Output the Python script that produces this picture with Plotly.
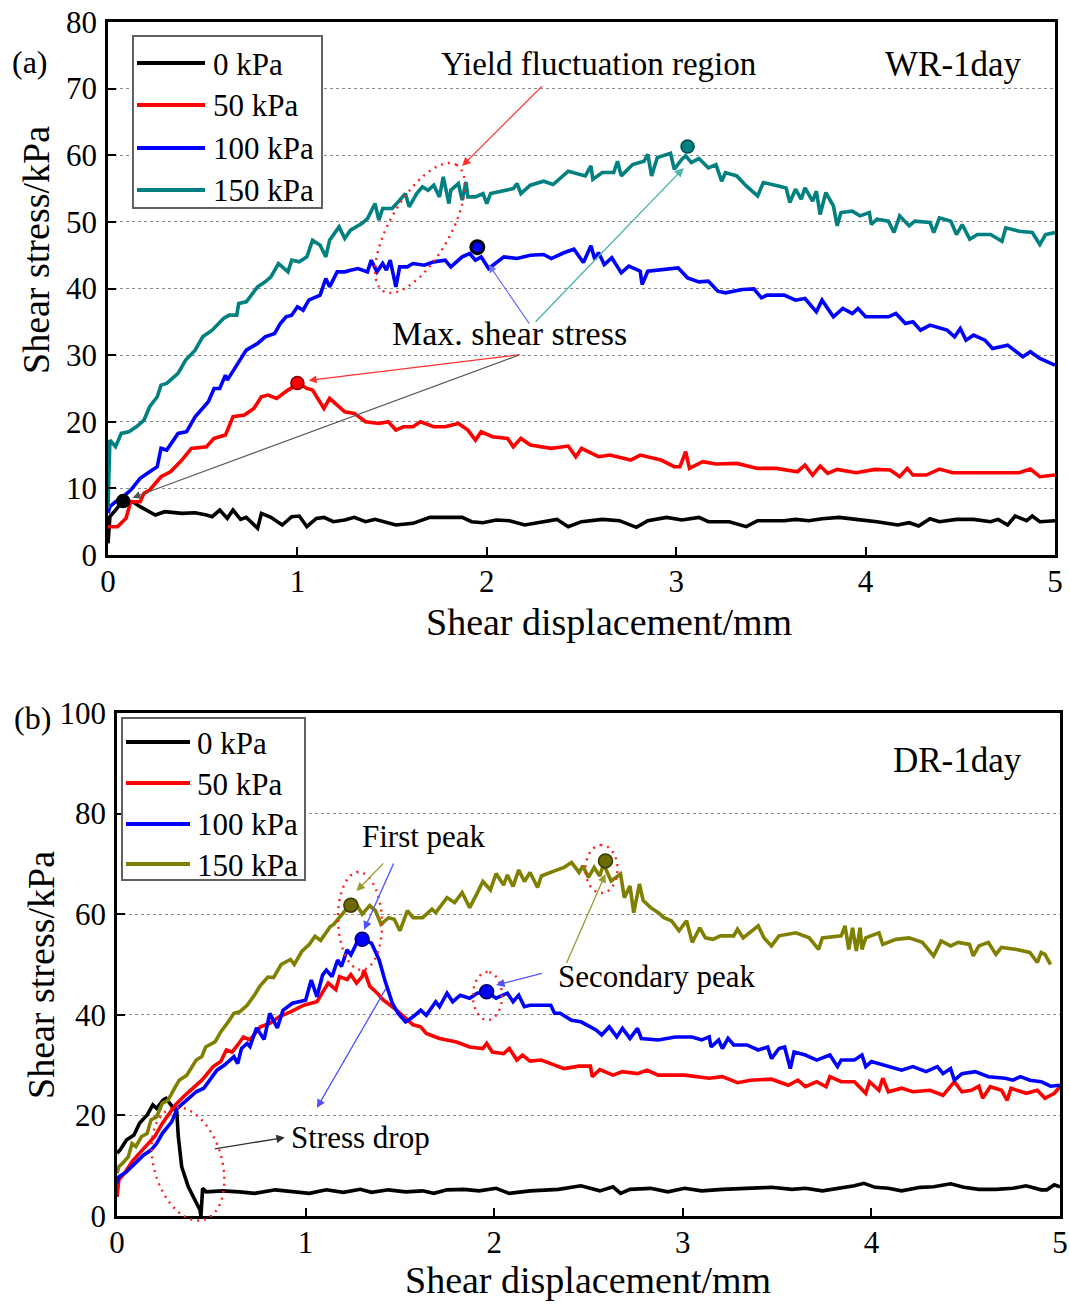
import math
import plotly.graph_objects as go

W, H = 1070, 1304
FONT = "Liberation Serif, Times New Roman, serif"

# ---------------- (a) WR-1day : shear displacement (mm) / shear stress (kPa) ----------------
wr_disp_0 = [0, 0.01, 0.04, 0.08, 0.13, 0.17, 0.25, 0.30, 0.39, 0.46, 0.52, 0.55, 0.59, 0.63, 0.66, 0.70,
             0.73, 0.79, 0.81, 0.86, 0.92, 0.97, 1.01, 1.05, 1.10, 1.14, 1.19, 1.25, 1.30, 1.36, 1.41, 1.52,
             1.61, 1.70, 1.80, 1.87, 1.92, 1.98, 2.05, 2.12, 2.20, 2.27, 2.37, 2.43, 2.50, 2.61, 2.70, 2.79,
             2.85, 2.95, 3.03, 3.12, 3.17, 3.28, 3.37, 3.43, 3.57, 3.63, 3.70, 3.77, 3.86, 3.95, 4.06, 4.17,
             4.23, 4.28, 4.34, 4.39, 4.48, 4.57, 4.66, 4.70, 4.75, 4.79, 4.85, 4.88, 4.92, 5.0]
wr_tau_0 = [1.75, 5.75, 6.75, 8.15, 8.0, 7.25, 6.0, 6.5, 6.25, 6.35, 6.0, 5.75, 6.75, 5.5, 6.75, 5.35,
            5.65, 4.0, 6.25, 5.65, 4.5, 5.75, 5.85, 4.25, 5.5, 5.65, 5.0, 5.25, 5.65, 5.0, 5.35, 4.5,
            4.75, 5.65, 5.65, 5.65, 5.0, 4.85, 5.25, 5.15, 4.5, 4.8, 5.35, 4.25, 5.0, 5.35, 5.15, 4.15,
            5.15, 5.65, 5.25, 5.65, 5.0, 5.0, 4.25, 5.15, 5.15, 5.35, 5.15, 5.45, 5.65, 5.35, 5.0, 4.5,
            4.85, 4.35, 5.45, 5.0, 5.35, 5.35, 5.0, 5.35, 4.5, 5.85, 5.15, 5.85, 5.0, 5.15]

wr_disp_50 = [0, 0.05, 0.095, 0.12, 0.17, 0.19, 0.22, 0.28, 0.33, 0.39, 0.44, 0.52, 0.56, 0.62, 0.66, 0.72,
              0.77, 0.81, 0.845, 0.89, 0.95, 1.01, 1.05, 1.08, 1.14, 1.17, 1.25, 1.30, 1.36, 1.43, 1.48, 1.52,
              1.56, 1.61, 1.65, 1.72, 1.78, 1.85, 1.90, 1.94, 1.97, 2.03, 2.11, 2.14, 2.18, 2.23, 2.34, 2.43,
              2.47, 2.50, 2.59, 2.65, 2.76, 2.81, 2.92, 2.99, 3.02, 3.05, 3.07, 3.14, 3.21, 3.32, 3.43, 3.53,
              3.64, 3.68, 3.72, 3.76, 3.80, 3.85, 3.95, 4.05, 4.13, 4.18, 4.22, 4.25, 4.32, 4.39, 4.46, 4.59,
              4.68, 4.81, 4.87, 4.92, 5.0]
wr_tau_50 = [4.25, 4.25, 5.5, 8.0, 8.0, 9.25, 9.75, 11.75, 12.5, 14.25, 16.0, 16.25, 17.5, 18.0, 20.75, 21.0,
             22.0, 23.75, 24.0, 23.5, 24.75, 25.75, 25.0, 24.75, 22.0, 23.5, 21.5, 21.25, 20.0, 19.75, 20.0, 18.75,
             19.25, 19.25, 20.0, 19.25, 19.25, 19.75, 18.75, 17.25, 18.5, 17.75, 17.5, 16.25, 17.5, 16.5, 16.0, 16.35,
             14.75, 16.0, 14.75, 15.0, 14.25, 15.0, 14.25, 13.25, 13.25, 15.5, 13.0, 14.0, 13.65, 13.75, 13.0, 13.0,
             12.5, 13.5, 12.0, 13.35, 12.25, 12.85, 12.35, 12.85, 12.75, 11.75, 13.0, 12.0, 12.0, 12.9, 12.35, 12.35,
             12.25, 12.35, 12.9, 11.75, 12.0]

wr_disp_100 = [0, 0.01, 0.04, 0.08, 0.12, 0.17, 0.22, 0.26, 0.28, 0.31, 0.37, 0.415, 0.46, 0.50, 0.53, 0.56,
               0.59, 0.62, 0.63, 0.68, 0.73, 0.79, 0.83, 0.88, 0.91, 0.94, 0.97, 1.0, 1.03, 1.06, 1.12, 1.15,
               1.17, 1.21, 1.25, 1.28, 1.32, 1.37, 1.39, 1.42, 1.45, 1.47, 1.49, 1.52, 1.54, 1.58, 1.61, 1.67,
               1.72, 1.78, 1.81, 1.87, 1.91, 1.94, 1.97, 2.01, 2.09, 2.16, 2.23, 2.30, 2.34, 2.41, 2.46, 2.51,
               2.55, 2.57, 2.59, 2.62, 2.66, 2.71, 2.75, 2.81, 2.82, 2.85, 2.94, 3.01, 3.06, 3.12, 3.17, 3.22,
               3.26, 3.35, 3.41, 3.45, 3.48, 3.57, 3.63, 3.68, 3.74, 3.77, 3.83, 3.88, 3.93, 3.96, 4.0, 4.12,
               4.16, 4.21, 4.25, 4.29, 4.34, 4.43, 4.47, 4.50, 4.53, 4.57, 4.63, 4.67, 4.75, 4.83, 4.87, 4.92, 5.0]
wr_tau_100 = [6.25, 7.25, 8.0, 8.75, 9.75, 11.5, 12.5, 13.25, 16.0, 15.75, 18.25, 18.5, 20.75, 22.0, 23.0, 25.0,
              25.0, 27.0, 26.25, 28.5, 30.75, 31.75, 32.75, 33.25, 34.75, 35.75, 36.0, 37.25, 36.75, 38.25, 39.0, 41.5,
              40.25, 42.5, 42.5, 42.75, 43.0, 42.5, 44.25, 42.5, 43.75, 42.75, 44.25, 40.25, 43.25, 43.25, 43.75, 43.5,
              44.0, 44.25, 43.25, 44.75, 45.25, 44.25, 44.75, 43.0, 44.75, 44.5, 45.0, 45.1, 44.5, 45.4, 45.9, 43.9,
              46.4, 44.4, 45.4, 43.6, 44.6, 42.35, 43.35, 42.6, 40.6, 42.6, 42.85, 43.1, 41.6, 41.0, 41.1, 39.6,
              39.35, 39.85, 39.95, 38.6, 39.0, 39.0, 38.25, 38.5, 36.5, 38.25, 35.75, 37.0, 36.25, 37.0, 35.75, 35.75,
              36.25, 34.75, 35.0, 33.75, 34.5, 33.75, 32.75, 34.0, 32.25, 33.0, 32.25, 31.0, 31.5, 29.75, 30.5, 29.5, 28.5]

wr_disp_150 = [0, 0.005, 0.01, 0.04, 0.07, 0.11, 0.15, 0.19, 0.22, 0.26, 0.28, 0.31, 0.37, 0.41, 0.46, 0.50,
               0.55, 0.61, 0.64, 0.68, 0.69, 0.73, 0.79, 0.83, 0.86, 0.90, 0.95, 0.97, 1.01, 1.05, 1.08, 1.12,
               1.15, 1.17, 1.22, 1.25, 1.28, 1.34, 1.37, 1.41, 1.43, 1.45, 1.50, 1.54, 1.57, 1.59, 1.63, 1.66,
               1.69, 1.72, 1.75, 1.77, 1.80, 1.81, 1.85, 1.87, 1.89, 1.90, 1.94, 1.98, 2.00, 2.02, 2.09, 2.14,
               2.16, 2.18, 2.23, 2.30, 2.35, 2.43, 2.52, 2.55, 2.56, 2.61, 2.67, 2.69, 2.71, 2.77, 2.83, 2.85,
               2.87, 2.90, 2.97, 2.99, 3.03, 3.05, 3.08, 3.12, 3.17, 3.21, 3.24, 3.26, 3.32, 3.37, 3.43, 3.46,
               3.54, 3.58, 3.60, 3.63, 3.66, 3.68, 3.72, 3.74, 3.76, 3.79, 3.83, 3.85, 3.87, 3.93, 3.97, 4.02,
               4.03, 4.06, 4.12, 4.15, 4.18, 4.23, 4.26, 4.34, 4.36, 4.39, 4.45, 4.48, 4.51, 4.55, 4.59, 4.66,
               4.72, 4.74, 4.81, 4.88, 4.92, 4.95, 5.0]
wr_tau_150 = [7.0, 12.0, 17.25, 16.25, 18.25, 18.5, 19.25, 20.25, 22.25, 23.75, 25.5, 25.75, 27.25, 29.25, 30.75, 32.75,
              33.75, 35.5, 36.0, 36.0, 37.75, 38.0, 40.25, 41.0, 41.75, 43.75, 42.5, 44.25, 44.0, 44.75, 47.25, 46.5,
              44.75, 47.25, 49.25, 47.5, 48.75, 49.75, 50.5, 52.75, 50.25, 52.0, 52.0, 53.25, 54.25, 52.25, 54.25, 55.25,
              54.75, 55.5, 53.75, 56.75, 52.75, 54.75, 55.75, 53.25, 56.0, 53.75, 53.75, 54.25, 52.75, 54.25, 54.75, 55.0,
              55.75, 54.25, 55.5, 56.1, 55.6, 57.6, 56.9, 58.4, 56.4, 57.4, 57.4, 59.1, 56.9, 58.6, 59.1, 60.15,
              56.9, 59.65, 60.3, 57.9, 59.4, 59.9, 58.9, 59.5, 58.1, 58.6, 56.1, 57.4, 56.9, 55.4, 53.9, 55.9,
              55.4, 55.1, 52.9, 54.9, 53.4, 55.1, 53.1, 54.6, 51.1, 54.4, 52.4, 49.4, 51.4, 51.6, 50.9, 51.4,
              49.6, 50.4, 50.1, 48.4, 50.9, 49.4, 50.1, 49.9, 48.4, 50.6, 50.1, 48.1, 49.6, 47.4, 48.1, 48.1,
              47.1, 49.1, 48.6, 48.4, 46.6, 48.1, 48.4]

# maximum shear stress points (a)
wr_peak_disp = [0.08, 1.0, 1.95, 3.06]
wr_peak_tau = [8.1, 25.8, 46.2, 61.3]

# ---------------- (b) DR-1day ----------------
dr_disp_0 = [0, 0.016, 0.05, 0.09, 0.12, 0.16, 0.19, 0.21, 0.245, 0.26, 0.28, 0.30, 0.317, 0.325, 0.343,
             0.378, 0.414, 0.44, 0.445, 0.454, 0.472, 0.56, 0.65, 0.73, 0.84, 0.93, 1.02, 1.11, 1.20, 1.29,
             1.35, 1.44, 1.53, 1.62, 1.68, 1.75, 1.84, 1.92, 2.01, 2.08, 2.19, 2.34, 2.46, 2.56, 2.63,
             2.67, 2.72, 2.83, 2.92, 3.01, 3.10, 3.21, 3.32, 3.47, 3.58, 3.65, 3.74, 3.84, 3.91, 3.96,
             4.02, 4.09, 4.16, 4.26, 4.33, 4.42, 4.49, 4.57, 4.66, 4.75, 4.82, 4.90, 4.93, 4.97, 5.0]
dr_tau_0 = [12.5, 13.1, 15.1, 16.1, 18.5, 20.1, 22.1, 21.4, 23.1, 23.4, 22.4, 21.5, 20.7, 15.8, 9.8,
            5.8, 3.2, 1.2, 0.0, 5.5, 4.8, 5.0, 4.8, 4.5, 5.2, 4.8, 4.5, 5.2, 4.7, 5.3,
            4.7, 5.2, 4.8, 5.0, 4.5, 5.2, 5.3, 5.0, 5.5, 4.5, 5.0, 5.3, 6.0, 5.0, 5.8,
            4.5, 5.3, 5.5, 4.8, 5.5, 5.0, 5.3, 5.5, 5.7, 5.3, 5.5, 5.0, 5.5, 6.0, 6.5,
            5.7, 5.5, 5.0, 5.7, 5.8, 6.4, 5.7, 5.3, 5.3, 5.5, 6.0, 5.2, 5.2, 6.2, 5.8]

dr_disp_50 = [0, 0.01, 0.04, 0.08, 0.11, 0.16, 0.20, 0.24, 0.28, 0.31, 0.36, 0.40, 0.45, 0.51, 0.55, 0.58,
              0.61, 0.64, 0.67, 0.705, 0.76, 0.81, 0.86, 0.92, 0.99, 1.06, 1.09, 1.12, 1.16, 1.18, 1.22, 1.24,
              1.27, 1.30, 1.31, 1.34, 1.38, 1.41, 1.47, 1.52, 1.57, 1.61, 1.64, 1.71, 1.80, 1.87, 1.94, 1.96,
              1.99, 2.05, 2.08, 2.12, 2.15, 2.19, 2.25, 2.30, 2.37, 2.45, 2.51, 2.52, 2.56, 2.63, 2.68, 2.76,
              2.81, 2.87, 2.92, 3.01, 3.14, 3.21, 3.29, 3.36, 3.47, 3.56, 3.61, 3.65, 3.71, 3.76, 3.78, 3.84,
              3.91, 3.97, 3.99, 4.04, 4.06, 4.09, 4.16, 4.22, 4.31, 4.38, 4.44, 4.48, 4.53, 4.57, 4.59, 4.63,
              4.69, 4.72, 4.74, 4.82, 4.88, 4.92, 4.97, 5.0]
dr_tau_50 = [3.8, 7.2, 8.5, 10.8, 12.1, 14.1, 15.8, 18.4, 20.4, 22.1, 24.0, 25.4, 27.0, 29.7, 30.7, 33.0,
             32.6, 34.0, 35.6, 35.0, 37.6, 38.3, 39.6, 40.6, 41.9, 42.6, 44.6, 46.3, 45.0, 47.6, 47.0, 48.0,
             46.3, 47.6, 48.9, 45.7, 44.3, 43.0, 41.3, 39.6, 38.0, 37.6, 36.3, 35.3, 34.6, 33.6, 33.3, 34.3,
             32.6, 32.3, 33.3, 31.0, 32.0, 30.8, 31.0, 30.3, 29.3, 29.8, 29.8, 27.7, 29.1, 28.0, 28.7, 28.3,
             29.0, 28.0, 28.0, 28.0, 27.4, 27.7, 26.5, 27.0, 27.2, 26.0, 27.0, 25.7, 26.7, 25.7, 27.7, 26.7,
             26.7, 24.4, 26.7, 25.0, 27.4, 24.7, 25.4, 24.7, 25.0, 24.0, 26.7, 24.7, 25.0, 25.8, 23.4, 25.7,
             25.0, 23.0, 25.4, 24.4, 25.0, 23.4, 24.4, 25.7]

dr_disp_100 = [0, 0.01, 0.05, 0.10, 0.14, 0.18, 0.21, 0.24, 0.29, 0.32, 0.37, 0.42, 0.46, 0.49, 0.53, 0.57,
               0.62, 0.64, 0.66, 0.69, 0.705, 0.74, 0.78, 0.81, 0.85, 0.88, 0.93, 1.0, 1.03, 1.06, 1.09, 1.11,
               1.14, 1.17, 1.19, 1.22, 1.24, 1.27, 1.31, 1.35, 1.39, 1.42, 1.46, 1.49, 1.53, 1.57, 1.61, 1.64,
               1.69, 1.71, 1.75, 1.78, 1.82, 1.87, 1.91, 1.96, 2.01, 2.07, 2.10, 2.13, 2.16, 2.19, 2.30, 2.32,
               2.35, 2.41, 2.46, 2.54, 2.57, 2.61, 2.65, 2.68, 2.72, 2.76, 2.78, 2.87, 2.96, 3.05, 3.10, 3.14,
               3.15, 3.19, 3.21, 3.24, 3.27, 3.34, 3.40, 3.45, 3.47, 3.51, 3.54, 3.57, 3.59, 3.65, 3.71, 3.78,
               3.82, 3.84, 3.91, 3.95, 3.97, 4.0, 4.09, 4.16, 4.22, 4.29, 4.35, 4.38, 4.42, 4.44, 4.48, 4.55,
               4.62, 4.71, 4.75, 4.79, 4.84, 4.90, 4.95, 5.0]
dr_tau_100 = [6.5, 7.8, 8.8, 10.5, 12.1, 13.1, 14.4, 16.4, 18.7, 21.4, 23.0, 24.7, 25.4, 27.0, 29.0, 30.0,
              31.7, 30.3, 33.3, 34.3, 33.7, 37.4, 35.1, 40.3, 37.4, 40.9, 42.3, 42.9, 46.9, 43.6, 47.9, 48.9,
              47.6, 50.9, 49.6, 52.9, 51.9, 54.2, 54.9, 54.2, 50.9, 46.9, 42.3, 40.3, 38.6, 39.6, 40.9, 39.9,
              42.6, 41.6, 44.3, 42.6, 43.9, 43.3, 44.3, 44.6, 43.3, 44.3, 42.6, 43.9, 41.6, 41.9, 41.9, 40.3,
              40.3, 38.9, 38.6, 37.0, 36.0, 37.6, 35.6, 37.3, 35.3, 37.3, 35.3, 35.0, 35.6, 35.6, 35.0, 35.6,
              33.6, 35.0, 33.3, 35.3, 34.0, 34.0, 33.0, 33.6, 31.3, 33.3, 33.6, 29.3, 32.6, 32.0, 31.0, 32.0,
              29.7, 31.0, 31.0, 32.0, 29.7, 30.7, 29.7, 29.0, 29.7, 28.7, 29.7, 28.3, 29.3, 27.0, 28.3, 28.7,
              27.7, 27.4, 27.0, 27.7, 27.0, 26.7, 25.8, 26.0]

dr_disp_150 = [0, 0.01, 0.03, 0.06, 0.08, 0.10, 0.13, 0.16, 0.18, 0.21, 0.24, 0.27, 0.31, 0.33, 0.37, 0.42,
               0.45, 0.47, 0.52, 0.55, 0.59, 0.62, 0.65, 0.69, 0.73, 0.76, 0.80, 0.83, 0.87, 0.92, 0.94, 0.98,
               1.02, 1.05, 1.08, 1.13, 1.15, 1.18, 1.21, 1.25, 1.27, 1.30, 1.34, 1.37, 1.40, 1.44, 1.47, 1.50,
               1.54, 1.57, 1.62, 1.67, 1.69, 1.75, 1.79, 1.83, 1.87, 1.91, 1.94, 1.98, 2.01, 2.05, 2.07, 2.10,
               2.13, 2.16, 2.19, 2.23, 2.25, 2.32, 2.37, 2.41, 2.45, 2.47, 2.50, 2.53, 2.56, 2.58, 2.62, 2.67,
               2.69, 2.72, 2.74, 2.77, 2.79, 2.83, 2.87, 2.90, 2.94, 2.98, 3.02, 3.05, 3.09, 3.12, 3.16, 3.20,
               3.27, 3.29, 3.32, 3.40, 3.43, 3.47, 3.51, 3.60, 3.67, 3.72, 3.74, 3.84, 3.86, 3.88, 3.90, 3.92,
               3.94, 3.95, 3.97, 4.04, 4.06, 4.13, 4.20, 4.27, 4.33, 4.37, 4.42, 4.46, 4.52, 4.54, 4.57, 4.62,
               4.66, 4.69, 4.77, 4.84, 4.88, 4.90, 4.92, 4.95]
dr_tau_150 = [8.5, 9.8, 10.5, 11.8, 14.4, 13.8, 15.8, 16.4, 19.1, 19.7, 22.4, 23.0, 25.7, 27.0, 28.0, 31.0,
              31.7, 33.6, 34.6, 36.6, 38.6, 40.3, 40.6, 41.9, 44.0, 45.8, 47.5, 47.4, 50.0, 51.0, 50.0, 52.6,
              54.0, 55.6, 54.8, 57.5, 58.0, 59.3, 60.7, 61.7, 62.0, 60.0, 61.7, 60.7, 58.0, 59.3, 59.0, 56.7,
              60.7, 59.3, 59.3, 61.0, 60.3, 63.3, 62.3, 64.3, 61.3, 64.2, 66.5, 64.8, 68.1, 65.8, 67.8, 65.5,
              68.8, 66.5, 68.3, 65.3, 67.6, 68.6, 69.3, 70.3, 68.3, 69.6, 67.3, 69.3, 67.6, 70.0, 66.6, 68.0,
              63.3, 65.6, 60.3, 66.0, 62.7, 61.3, 60.3, 59.3, 58.7, 56.7, 58.7, 54.4, 57.3, 55.3, 55.0, 55.7,
              55.7, 57.0, 55.3, 57.7, 55.3, 53.7, 55.7, 56.3, 55.3, 53.0, 55.3, 55.7, 57.7, 53.0, 57.3, 52.7,
              57.3, 53.0, 55.3, 56.3, 54.0, 55.0, 55.3, 54.4, 51.7, 54.7, 53.7, 54.4, 54.0, 51.7, 53.7, 54.4,
              52.0, 53.4, 53.0, 52.4, 50.4, 52.4, 52.0, 50.0]

# first and secondary peaks (b): 150 kPa first, 100 kPa first, 100 kPa secondary, 150 kPa secondary
dr_peak_disp = [1.24, 1.30, 1.96, 2.59]
dr_peak_tau = [61.8, 55.0, 44.6, 70.6]

legend_labels = ["0 kPa", "50 kPa", "100 kPa", "150 kPa"]
wr_colors = ["#000000", "#ff0000", "#0000ff", "#008080"]
dr_colors = ["#000000", "#ff0000", "#0000ff", "#808000"]

wr_series = [(wr_disp_0, wr_tau_0), (wr_disp_50, wr_tau_50), (wr_disp_100, wr_tau_100), (wr_disp_150, wr_tau_150)]
dr_series = [(dr_disp_0, dr_tau_0), (dr_disp_50, dr_tau_50), (dr_disp_100, dr_tau_100), (dr_disp_150, dr_tau_150)]
for xs, ys in wr_series + dr_series:
    assert len(xs) == len(ys), (len(xs), len(ys))

# plot boxes in pixels: left, right, top, bottom
BOX_A = (108, 1055, 22, 555)
BOX_B = (117, 1060, 713, 1216)


def domains(box):
    l, r, t, b = box
    return [l / W, r / W], [1 - b / H, 1 - t / H]


def P(px, py):
    return px / W, 1 - py / H


def ellipse_path(cx, cy, a, b, ang_deg, n=72):
    t = math.radians(ang_deg)
    pts = []
    for k in range(n + 1):
        s = 2 * math.pi * k / n
        dx = a * math.cos(s) * math.cos(t) - b * math.sin(s) * math.sin(t)
        dy = a * math.cos(s) * math.sin(t) + b * math.sin(s) * math.cos(t)
        x, y = P(cx + dx, cy - dy)
        pts.append(f"{x:.5f},{y:.5f}")
    return "M " + " L ".join(pts) + " Z"


fig = go.Figure()

for (xs, ys), c in zip(wr_series, wr_colors):
    fig.add_trace(go.Scatter(x=xs, y=ys, mode="lines", line=dict(color=c, width=3.6),
                             xaxis="x", yaxis="y", showlegend=False, hoverinfo="skip"))
for (xs, ys), c in zip(dr_series, dr_colors):
    fig.add_trace(go.Scatter(x=xs, y=ys, mode="lines", line=dict(color=c, width=3.6),
                             xaxis="x2", yaxis="y2", showlegend=False, hoverinfo="skip"))

fig.add_trace(go.Scatter(
    x=wr_peak_disp, y=wr_peak_tau, mode="markers", xaxis="x", yaxis="y", showlegend=False,
    marker=dict(size=13, color=wr_colors,
                line=dict(color=["#000000", "#7a0000", "#000000", "#004a4a"], width=[1.5, 1.5, 3, 1.5]))))
fig.add_trace(go.Scatter(
    x=dr_peak_disp, y=dr_peak_tau, mode="markers", xaxis="x2", yaxis="y2", showlegend=False,
    marker=dict(size=14, color=["#6b6b00", "#0000ff", "#0000ff", "#6b6b00"],
                line=dict(color=["#3a3a00", "#00006a", "#00006a", "#3a3a00"], width=1.5))))

common = dict(showline=True, linecolor="black", linewidth=2.5, mirror=True, ticks="inside",
              ticklen=8, tickwidth=2, tickcolor="black", zeroline=False, automargin=False,
              tickfont=dict(family=FONT, size=31, color="black"))
gridy = dict(showgrid=True, gridcolor="#8a8a8a", gridwidth=1, griddash="dot")

xa, ya = domains(BOX_A)
xb, yb = domains(BOX_B)

fig.update_layout(
    width=W, height=H, margin=dict(l=0, r=0, t=0, b=0, pad=0), autosize=False,
    paper_bgcolor="white", plot_bgcolor="white",
    xaxis=dict(domain=xa, range=[0, 5], dtick=1, showgrid=False, anchor="y", ticklabelstandoff=-3, **common),
    yaxis=dict(domain=ya, range=[0, 80], dtick=10, anchor="x", ticklabelstandoff=2, **gridy, **common),
    xaxis2=dict(domain=xb, range=[0, 5], dtick=1, showgrid=False, anchor="y2", ticklabelstandoff=-3, **common),
    yaxis2=dict(domain=yb, range=[0, 100], dtick=20, anchor="x2", ticklabelstandoff=2, **gridy, **common),
)

shapes = []
annotations = []


def text(px, py, s, size, xanchor="center", angle=0):
    x, y = P(px, py)
    annotations.append(dict(x=x, y=y, xref="paper", yref="paper", text=s, showarrow=False,
                            xanchor=xanchor, yanchor="middle", textangle=angle,
                            font=dict(family=FONT, size=size, color="black")))


def arrow(xr, yr, head, tail, color, width=1.3):
    annotations.append(dict(x=head[0], y=head[1], ax=tail[0], ay=tail[1], xref=xr, yref=yr,
                            axref=xr, ayref=yr, text="", showarrow=True, arrowhead=2,
                            arrowsize=1.3, arrowwidth=width, arrowcolor=color, standoff=0))


def legend(box, rows, line_x, text_x, colors):
    l, t, r, b = box
    x0, y0 = P(l, b)
    x1, y1 = P(r, t)
    shapes.append(dict(type="rect", xref="paper", yref="paper", x0=x0, y0=y0, x1=x1, y1=y1,
                       line=dict(color="#606060", width=2), fillcolor="white", layer="above"))
    for label, yy, c in zip(legend_labels, rows, colors):
        a0, b0 = P(line_x[0], yy)
        a1, _ = P(line_x[1], yy)
        shapes.append(dict(type="line", xref="paper", yref="paper", x0=a0, y0=b0, x1=a1, y1=b0,
                           line=dict(color=c, width=4), layer="above"))
        text(text_x, yy + 1, label, 31, xanchor="left")


# axis titles
text(609, 622, "Shear displacement/mm", 38)
text(36, 250, "Shear stress/kPa", 38, angle=-90)
text(588, 1280, "Shear displacement/mm", 38)
text(41, 975, "Shear stress/kPa", 38, angle=-90)

# panel labels
text(30, 62, "(a)", 32)
text(32, 718, "(b)", 32)

# legends
legend((133, 36, 322, 208), [63, 105, 148, 190], (137, 205), 211, wr_colors)
legend((122, 718, 305, 880), [742, 783, 824, 864], (126, 190), 195, dr_colors)

# panel (a) notes
text(953, 64, "WR-1day", 35)
text(598, 64, "Yield fluctuation region", 33)
text(509, 333, "Max. shear stress", 34)
shapes.append(dict(type="path", xref="paper", yref="paper", path=ellipse_path(420, 228, 73, 30, 60),
                   line=dict(color="#ff2020", width=2.4, dash="2px,5px")))
arrow("x", "y", (1.87, 58.4), (2.30, 70.6), "#ff3030")
arrow("x", "y", (1.06, 26.2), (2.18, 30.1), "#ff3030", 1.2)
arrow("x", "y", (0.13, 8.6), (2.18, 30.1), "#555555", 1.2)
arrow("x", "y", (2.01, 43.6), (2.23, 34.5), "#6f6fff", 1.2)
arrow("x", "y", (3.04, 58.1), (2.25, 34.8), "#4fb5ad", 1.4)

# panel (b) notes
text(957, 760, "DR-1day", 35)
text(424, 836, "First peak", 31)
text(657, 977, "Secondary peak", 31)
text(360, 1137, "Stress drop", 31)
for cx, cy, a, b, ang in [(360, 921, 49, 22, 92), (487.5, 996, 24, 14.5, 90),
                          (601.5, 869, 24, 16, 90), (188, 1164, 58, 34, -74)]:
    shapes.append(dict(type="path", xref="paper", yref="paper", path=ellipse_path(cx, cy, a, b, ang),
                       line=dict(color="#ff2020", width=2.4, dash="2px,5px")))
arrow("x2", "y2", (1.27, 64.6), (1.42, 70.4), "#9a9a30")
arrow("x2", "y2", (1.31, 56.9), (1.47, 70.4), "#5050ff")
arrow("x2", "y2", (1.06, 21.5), (1.43, 45.5), "#5050ff")
arrow("x2", "y2", (2.01, 45.9), (2.26, 48.3), "#5050ff")
arrow("x2", "y2", (2.59, 68.0), (2.38, 50.0), "#9a9a30")
arrow("x2", "y2", (0.89, 15.6), (0.51, 13.3), "#303030")

fig.update_layout(shapes=shapes, annotations=annotations)
fig.write_html("out.html")
